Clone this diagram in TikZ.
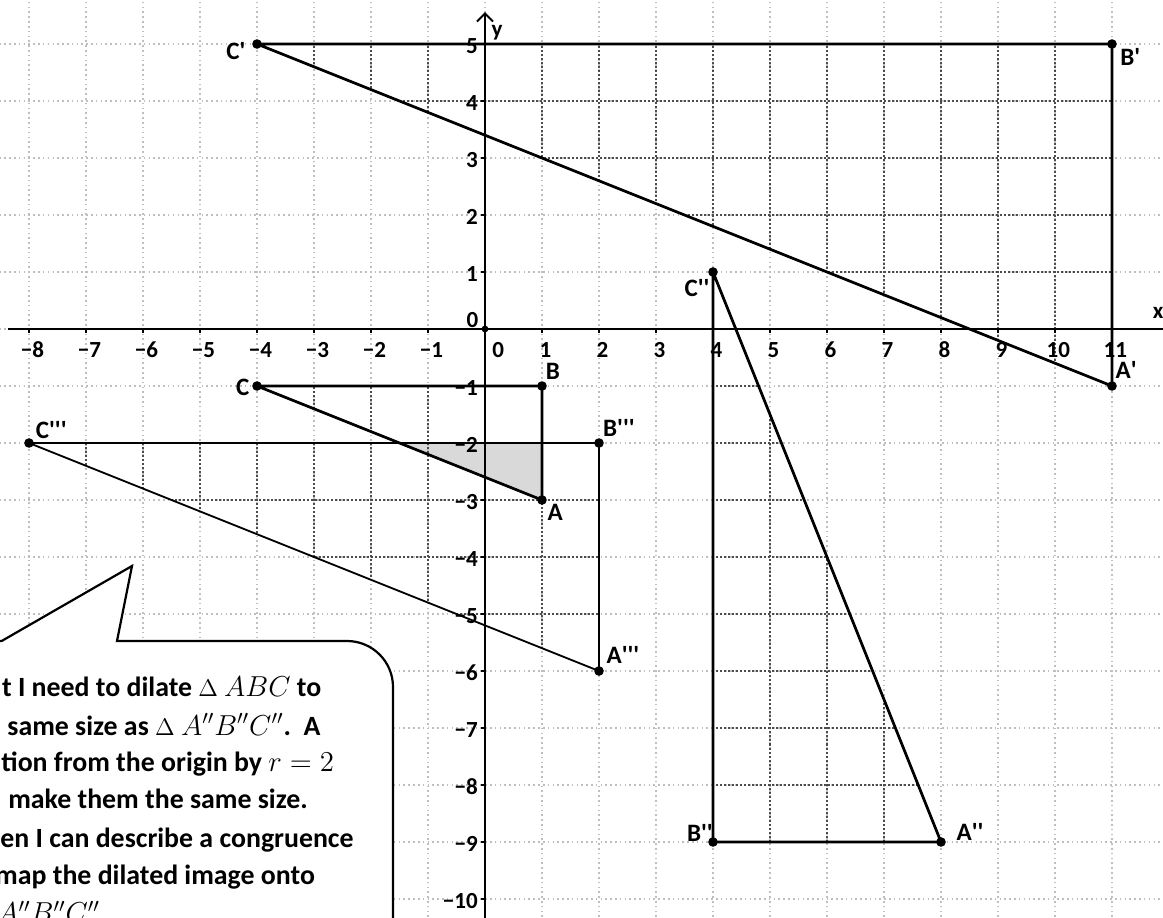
\documentclass[tikz,border=0pt]{standalone}
\usepackage{fontspec}
\setmainfont{Carlito}
\usetikzlibrary{arrows.meta}
\newcommand\pq{\textquotesingle}
\newcommand\Dlt{{\fontsize{11.5}{11.5}\selectfont$\Delta$}}
\begin{document}
\begin{tikzpicture}[x=1cm,y=1cm,
  gridl/.style={gray!50, line width=0.6pt, dash pattern=on 0.8pt off 1.6pt},
  gridd/.style={black!70, line width=0.6pt, dash pattern=on 1pt off 1pt},
  axisl/.style={line width=1pt},
  tri/.style={line width=1.35pt, line join=round},
  trithin/.style={line width=0.9pt, line join=round},
  pt/.style={circle, fill=black, inner sep=0pt, minimum size=4.8pt},
  lbl/.style={font=\fontsize{12.5}{13}\selectfont\bfseries, inner sep=0pt},
  num/.style={font=\fontsize{11.5}{12}\selectfont\bfseries, inner sep=0pt},
  btxt/.style={font=\fontsize{13.9}{14.5}\selectfont\bfseries, inner sep=0pt, anchor=base west},
  bubble/.style={line width=1.1pt}
]
\useasboundingbox (-8.509,-10.333) rectangle (11.895,5.772);
\clip (-8.509,-10.333) rectangle (11.895,5.772);
\fill[white] (-8.509,-10.333) rectangle (11.895,5.772);

% shaded part
\fill[gray!30] (-1.5,-2) -- (1,-2) -- (1,-3) -- cycle;

% grid
\foreach \x in {-8,...,11} \draw[gridl] (\x,-10.4) -- (\x,5.8);
\foreach \y in {-10,...,5} \draw[gridl] (-8.6,\y) -- (11.9,\y);
\foreach \a/\b/\c/\d/\e/\f in {11/-1/11/5/-4/5, 8/-9/4/-9/4/1, 1/-3/1/-1/-4/-1, 2/-6/2/-2/-8/-2} {
  \begin{scope}
    \clip (\a,\b) -- (\c,\d) -- (\e,\f) -- cycle;
    \foreach \x in {-8,...,11} \draw[gridd] (\x,-10.4) -- (\x,5.8);
    \foreach \y in {-10,...,5} \draw[gridd] (-8.6,\y) -- (11.9,\y);
  \end{scope}
}

% axes
\coordinate (xs) at (-8.37,0);
\coordinate (xe) at (11.95,0);
\coordinate (ys) at (0,-10.45);
\coordinate (ye) at (0,5.56);
\draw[axisl] (xs) -- (xe);
\draw[axisl, -{Straight Barb[length=4pt,width=8pt]}] (ys) -- (ye);
\foreach \x in {-8,...,11} \draw[line width=0.8pt] (\x,0) -- (\x,-0.07);
\foreach \y in {-10,...,5} \draw[line width=0.8pt] (0,\y) -- (-0.07,\y);
\node[pt, minimum size=3.4pt] (O) at (0,0) {};

% axis numbers
\foreach \x/\t in {-8/−8,-7/−7,-6/−6,-5/−5,-4/−4,-3/−3,-2/−2,-1/−1,1/1,2/2,3/3,4/4,5/5,6/6,7/7,8/8,9/9,10/10,11/11}
  \node[num] (xl\x) at (\x+0.06,-0.37) {\t};
\node[num] (xl0) at (0.23,-0.37) {0};
\foreach \y/\t in {-10/−10,-9/−9,-8/−8,-7/−7,-6/−6,-5/−5,-4/−4,-3/−3,-2/−2,-1/−1,1/1,2/2,3/3,4/4,5/5}
  \node[num, anchor=east] (yl\y) at (-0.12,\y-0.03) {\t};
\node[num, anchor=east] (yl0) at (-0.11,0.16) {0};
\node[num] (xlab) at (11.81,0.28) {x};
\node[num] (ylab) at (0.21,5.19) {y};

% vertices
\coordinate (A) at (1,-3);
\coordinate (B) at (1,-1);
\coordinate (C) at (-4,-1);
\coordinate (A1) at (11,-1);
\coordinate (B1) at (11,5);
\coordinate (C1) at (-4,5);
\coordinate (A2) at (8,-9);
\coordinate (B2) at (4,-9);
\coordinate (C2) at (4,1);
\coordinate (A3) at (2,-6);
\coordinate (B3) at (2,-2);
\coordinate (C3) at (-8,-2);

% triangles
\draw[tri] (C) -- (B) -- (A) -- cycle;
\draw[tri] (C1) -- (B1) -- (A1) -- cycle;
\draw[tri] (C2) -- (B2) -- (A2) -- cycle;
\draw[trithin] (C3) -- (B3) -- (A3) -- cycle;

\foreach \p in {A,B,C,A1,B1,C1,A2,B2,C2,A3,B3,C3}
  \node[pt] (d\p) at (\p) {};

% point labels
\node[lbl] (lC1) at (-4.37,4.88) {C\pq};
\node[lbl] (lB1) at (11.32,4.77) {B\pq};
\node[lbl] (lA1) at (11.25,-0.72) {A\pq};
\node[lbl] (lC) at (-4.25,-1.03) {C};
\node[lbl] (lB) at (1.19,-0.75) {B};
\node[lbl] (lA) at (1.23,-3.21) {A};
\node[lbl] (lB3) at (2.35,-1.74) {B\pq\pq\pq};
\node[lbl] (lC3) at (-7.61,-1.77) {C\pq\pq\pq};
\node[lbl] (lA3) at (2.42,-5.72) {A\pq\pq\pq};
\node[lbl] (lC2) at (3.72,0.72) {C\pq\pq};
\node[lbl] (lB2) at (3.77,-8.84) {B\pq\pq};
\node[lbl] (lA2) at (8.51,-8.83) {A\pq\pq};

% speech bubble
\fill[white] (-9,-5.474) -- (-8.48,-5.474) -- (-6.193,-4.158) -- (-6.456,-5.474) -- (-2.42,-5.474)
  arc[start angle=90, end angle=0, radius=0.806] -- (-1.614,-10.6) -- (-9,-10.6) -- cycle;
\draw[bubble, line join=miter] (-9,-5.474) -- (-8.48,-5.474) -- (-6.193,-4.158) -- (-6.456,-5.474) -- (-2.42,-5.474)
  arc[start angle=90, end angle=0, radius=0.806] -- (-1.614,-10.6);

\node[btxt] (t1) at (-8.48,-6.456) {t I need to dilate \Dlt\ $ABC$ to};
\node[btxt] (t2) at (-8.386,-7.123) {same size as \Dlt\ $A''B''C''$.\ \ A};
\node[btxt] (t3) at (-8.49,-7.772) {tion from the origin by $r=2$};
\node[btxt] (t4) at (-8.37,-8.421) {make them the same size.};
\node[btxt] (t5) at (-8.51,-9.088) {en I can describe a congruence};
\node[btxt] (t6) at (-8.6,-9.754) {map the dilated image onto};
\node[btxt] (t7) at (-8.56,-10.42) {$A''B''C''$};
\end{tikzpicture}
\end{document}
